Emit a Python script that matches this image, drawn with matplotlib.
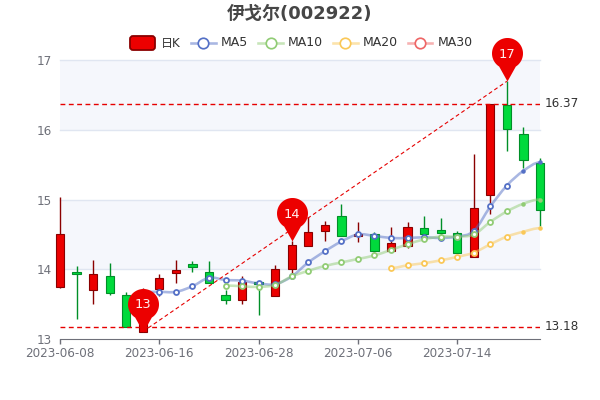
import matplotlib
matplotlib.use("Agg")
import matplotlib.pyplot as plt
import numpy as np
from matplotlib.lines import Line2D
from matplotlib.patches import FancyBboxPatch, PathPatch, Rectangle
from matplotlib.path import Path

plt.rcParams['font.family'] = ['DejaVu Sans', 'Noto Sans CJK SC']

dates = ["2023-06-08", "2023-06-09", "2023-06-12", "2023-06-13", "2023-06-14", "2023-06-15",
         "2023-06-16", "2023-06-19", "2023-06-20", "2023-06-21", "2023-06-26", "2023-06-27",
         "2023-06-28", "2023-06-29", "2023-06-30", "2023-07-03", "2023-07-04", "2023-07-05",
         "2023-07-06", "2023-07-07", "2023-07-10", "2023-07-11", "2023-07-12", "2023-07-13",
         "2023-07-14", "2023-07-17", "2023-07-18", "2023-07-19", "2023-07-20", "2023-07-21"]

opens = [13.75, 13.97, 13.70, 13.90, 13.63, 13.11, 13.72, 13.95, 14.08, 13.97,
         13.63, 13.57, 13.82, 13.62, 14.00, 14.34, 14.55, 14.76, 14.48, 14.51,
         14.26, 14.33, 14.59, 14.57, 14.52, 14.18, 15.06, 16.35, 15.94, 15.52]
closes = [14.51, 13.93, 13.94, 13.67, 13.18, 13.62, 13.88, 13.99, 14.03, 13.80,
          13.56, 13.82, 13.79, 14.00, 14.35, 14.53, 14.63, 14.48, 14.51, 14.26,
          14.38, 14.61, 14.50, 14.52, 14.23, 14.88, 16.37, 16.01, 15.56, 14.85]
lows = [13.73, 13.29, 13.51, 13.64, 13.18, 13.11, 13.62, 13.80, 13.97, 13.80,
        13.50, 13.51, 13.35, 13.62, 13.95, 14.34, 14.40, 14.48, 14.39, 14.25,
        14.26, 14.30, 14.43, 14.43, 14.23, 14.18, 14.79, 15.70, 15.45, 14.62]
highs = [15.04, 14.05, 14.14, 14.09, 13.68, 13.74, 13.94, 14.14, 14.12, 14.12,
         13.71, 13.90, 13.82, 14.07, 14.40, 14.75, 14.69, 14.94, 14.68, 14.54,
         14.60, 14.68, 14.76, 14.74, 14.55, 15.65, 16.37, 16.69, 16.03, 15.60]

ma5 = [None, None, None, None, None, 13.68, 13.68, 13.68, 13.76, 13.88,
       13.85, 13.84, 13.80, 13.79, 13.90, 14.10, 14.26, 14.40, 14.50, 14.48,
       14.45, 14.45, 14.46, 14.45, 14.47, 14.55, 14.90, 15.20, 15.41, 15.53]
ma10 = [None] * 10 + [13.77, 13.76, 13.75, 13.78, 13.90, 13.98, 14.05, 14.10, 14.15, 14.20,
                      14.28, 14.36, 14.43, 14.47, 14.47, 14.50, 14.68, 14.83, 14.94, 15.00]
ma20 = [None] * 20 + [14.02, 14.06, 14.09, 14.13, 14.18, 14.24, 14.36, 14.47, 14.54, 14.59]

ma_names = ["MA5", "MA10", "MA20", "MA30"]
ma_colors = ["#5470c6", "#91cc75", "#fac858", "#ee6666"]

pin_idx = [5, 14, 27]
pin_vals = [13.11, 14.40, 16.69]
pin_text = ["13", "14", "17"]
max_close = 16.37
min_close = 13.18

tick_idx = [0, 6, 12, 18, 24]
y_ticks = [13, 14, 15, 16, 17]

red, red_edge = "#ec0000", "#8a0000"
green, green_edge = "#00da3c", "#008f28"
gray = "#6e7079"
PX = 72 / 100  # px to pt

fig = plt.figure(figsize=(6, 4), dpi=100)
ax = fig.add_axes([0.1, 0.1515, 0.8, 0.6995])
ax.set_xlim(0, 29)
ax.set_ylim(13, 17)

# bands and grid
for a, b in [(16, 17), (14, 15)]:
    ax.axhspan(a, b, color="#f5f7fc", lw=0, zorder=0)
for v in y_ticks[1:]:
    ax.axhline(v, color="#e0e6f1", lw=1, zorder=1, clip_on=False)

for s in ["top", "left", "right"]:
    ax.spines[s].set_visible(False)
ax.spines["bottom"].set_color(gray)
ax.set_xticks(tick_idx)
ax.set_xticklabels([dates[i] for i in tick_idx])
ax.set_yticks(y_ticks)
ax.tick_params(axis="x", colors=gray, labelsize=12 * PX, length=5 * PX, width=1, pad=3 * PX)
ax.tick_params(axis="y", colors=gray, labelsize=12 * PX, length=0, pad=8 * PX)

# candles
w = 0.5
for i in range(len(dates)):
    up = closes[i] > opens[i]
    fc, ec = (red, red_edge) if up else (green, green_edge)
    lo, hi = sorted([opens[i], closes[i]])
    ax.plot([i, i], [lows[i], lo], color=ec, lw=1, zorder=2, clip_on=False, solid_capstyle="butt")
    ax.plot([i, i], [hi, highs[i]], color=ec, lw=1, zorder=2, clip_on=False, solid_capstyle="butt")
    ax.add_patch(Rectangle((i - w / 2, lo), w, hi - lo, fc=fc, ec=ec, lw=0.8, zorder=3, clip_on=False))


def smooth(xs, ys):
    verts = [(xs[0], ys[0])]
    codes = [Path.MOVETO]
    for k in range(len(xs) - 1):
        d0 = (ys[k + 1] - ys[k - 1]) / 2 if k > 0 else 0
        d1 = (ys[k + 2] - ys[k]) / 2 if k < len(xs) - 2 else 0
        verts += [(xs[k] + 0.35, ys[k] + d0 * 0.35), (xs[k + 1] - 0.35, ys[k + 1] - d1 * 0.35), (xs[k + 1], ys[k + 1])]
        codes += [Path.CURVE4] * 3
    return Path(verts, codes)


# moving averages
for vals, col in zip([ma5, ma10, ma20], ma_colors):
    xs = [i for i, v in enumerate(vals) if v is not None]
    ys = [vals[i] for i in xs]
    ax.add_patch(PathPatch(smooth(xs, ys), fc="none", ec=col, alpha=0.5, lw=2 * PX * 1.3, zorder=4, clip_on=False))
    ax.plot(xs[:-2], ys[:-2], ls="none", marker="o", ms=5 * PX, mfc="white", mec=col, mew=1.8 * PX, zorder=5)
    ax.plot(xs[-2:], ys[-2:], ls="none", marker="o", ms=4.5 * PX, mfc=col, mec=col, mew=0, zorder=5, clip_on=False)

# mark lines
mark = "#e60000"
for v in [max_close, min_close]:
    ax.plot([0, 29], [v, v], color=mark, lw=1, ls=(0, (3.5, 2.5)), zorder=6)
    ax.annotate(f"{v:.2f}", (29, v), xytext=(5 * PX, 0), textcoords="offset points",
                va="center", ha="left", fontsize=12 * PX, color="#333333")
ax.plot([pin_idx[0], pin_idx[2]], [pin_vals[0], pin_vals[2]], color=mark, lw=0.8,
        ls=(0, (3.5, 2.5)), zorder=6, clip_on=False)

# pins, tip at origin
t = np.linspace(-0.32 * np.pi, 1.32 * np.pi, 50)
pin_xy = np.column_stack([15.5 * np.cos(t), 28 + 15.5 * np.sin(t)])
pin = Path(np.vstack([[0, 0], pin_xy, [0, 0]]), closed=True)
for i, v, s in zip(pin_idx, pin_vals, pin_text):
    ax.plot([i], [v], marker=pin, ms=87 * PX, mfc="#ec0000", mec="none", ls="none", zorder=7, clip_on=False)
    ax.annotate(s, (i, v), xytext=(0, 27 * PX), textcoords="offset points", ha="center", va="center",
                fontsize=13 * PX, color="#fff0f0", zorder=8)

# overlay in pixels for title and legend
ov = fig.add_axes([0, 0, 1, 1], facecolor="none")
ov.set_xlim(0, 600)
ov.set_ylim(400, 0)
ov.axis("off")
ov.text(300, 14, "伊戈尔(002922)", ha="center", va="center", fontsize=18 * PX, fontweight="bold", color="#464646")

ov.add_patch(FancyBboxPatch((130, 36), 25, 14, boxstyle="round,pad=0,rounding_size=3",
                            fc=red, ec=red_edge, lw=1.3))
ov.text(160.5, 43, "日K", va="center", ha="left", fontsize=12 * PX, color="#333333")
for x0, name, col in zip([191, 258.3, 333, 407.7], ma_names, ma_colors):
    ov.add_artist(Line2D([x0, x0 + 24.7], [43, 43], color=col, alpha=0.5, lw=2 * PX * 1.3))
    ov.plot([x0 + 12.3], [43], marker="o", ms=10.5 * PX, mfc="white", mec=col, mew=1.7 * PX, ls="none")
    ov.text(x0 + 29.7, 43, name, va="center", ha="left", fontsize=12.5 * PX, color="#333333")

fig.savefig("out.png", dpi=100)
